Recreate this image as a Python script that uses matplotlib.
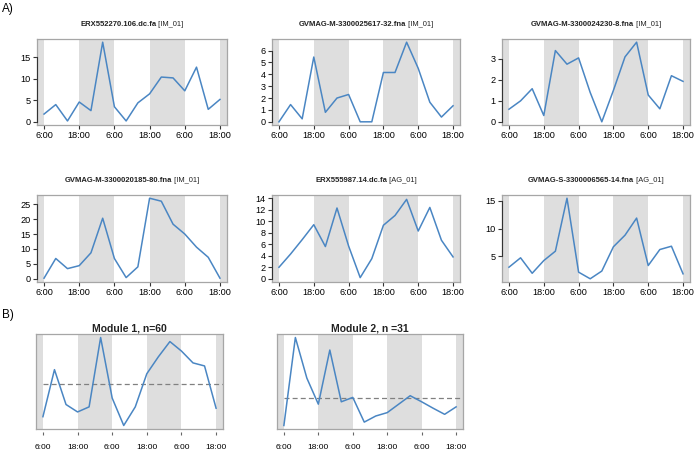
import matplotlib
matplotlib.use("Agg")
import matplotlib.pyplot as plt
import matplotlib.transforms as mtransforms
import numpy as np

plt.rcParams['font.family'] = ['Liberation Sans', 'DejaVu Sans']

hours = list(range(0, 61, 4))  # 6:00 day1 .. 18:00 day3
tick_hours = [0, 12, 24, 36, 48, 60]
tick_labels = ["6:00", "18:00", "6:00", "18:00", "6:00", "18:00"]
night_spans = [(12, 24), (36, 48)]

names = ["ERX552270.106.dc.fa", "GVMAG-M-3300025617-32.fna", "GVMAG-M-3300024230-8.fna",
         "GVMAG-M-3300020185-80.fna", "ERX555987.14.dc.fa", "GVMAG-S-3300006565-14.fna"]
tags = ["[IM_01]", "[IM_01]", "[IM_01]", "[IM_01]", "[AG_01]", "[AG_01]"]

v1 = [1.8, 4.0, 0.2, 4.6, 2.6, 18.5, 3.5, 0.2, 4.4, 6.5, 10.4, 10.2, 7.2, 12.7, 2.9, 5.2]
v2 = [0.0, 1.45, 0.25, 5.45, 0.8, 2.0, 2.3, 0.0, 0.0, 4.15, 4.15, 6.7, 4.5, 1.65, 0.4, 1.35]
v3 = [0.6, 1.0, 1.58, 0.3, 3.4, 2.75, 3.05, 1.4, 0.0, 1.5, 3.1, 3.8, 1.28, 0.62, 2.2, 1.93]
v4 = [0.2, 6.8, 3.4, 4.4, 8.7, 20.3, 6.8, 0.4, 4.0, 27.0, 26.0, 18.3, 15.0, 10.6, 7.2, 0.2]
v5 = [2.0, 4.3, 6.8, 9.4, 5.6, 12.3, 5.7, 0.2, 3.5, 9.3, 11.0, 13.8, 8.3, 12.4, 6.7, 3.8]
v6 = [3.0, 4.7, 1.9, 4.2, 5.9, 15.5, 2.1, 0.9, 2.3, 6.7, 8.8, 11.9, 3.3, 6.2, 6.8, 1.8]
series = [v1, v2, v3, v4, v5, v6]
yticks = [[0, 5, 10, 15], [0, 1, 2, 3, 4, 5, 6], [0, 1, 2, 3],
          [0, 5, 10, 15, 20, 25], [0, 2, 4, 6, 8, 10, 12, 14], [5, 10, 15]]

module_titles = ["Module 1, n=60", "Module 2, n =31"]
m1 = [4.8, 18.7, 8.4, 6.2, 7.7, 28.2, 10.3, 2.2, 7.7, 17.5, 22.5, 27.0, 24.2, 20.7, 19.8, 7.3]
m2 = [2.2, 28.2, 16.2, 8.5, 24.5, 9.2, 10.5, 3.2, 5.0, 6.0, 8.5, 11.0, 9.2, 7.3, 5.5, 7.7]
modules = [m1, m2]
module_means = [14.5, 10.2]

LINE = "#4a86c3"
SHADE = "#dedede"
BOX = "#a6a6a6"
DARK = "#333333"
XMIN, XMAX = -2.4, 62.4

fig = plt.figure(figsize=(6.96, 4.5), dpi=100)
W, H = 696, 450

def add_ax(l, t, r, b):
    return fig.add_axes([l / W, 1 - b / H, (r - l) / W, (b - t) / H])

def shade(ax):
    ax.axvspan(XMIN, 0, color=SHADE, lw=0, zorder=0)
    for a, b in night_spans:
        ax.axvspan(a, b, color=SHADE, lw=0, zorder=0)
    ax.axvspan(60, XMAX, color=SHADE, lw=0, zorder=0)
    ax.set_xlim(XMIN, XMAX)

def style_box(ax):
    for s in ax.spines.values():
        s.set_color(BOX)
        s.set_linewidth(0.9)

top_boxes = [(37, 39, 227, 125), (272, 39, 460, 125), (502, 39, 690, 125),
             (37, 195, 227, 282), (272, 195, 460, 282), (502, 195, 690, 282)]

renderer = fig.canvas.get_renderer()

for i, (box, vals, name, tag, yt) in enumerate(zip(top_boxes, series, names, tags, yticks)):
    ax = add_ax(*box)
    shade(ax)
    ax.plot(hours, vals, color=LINE, lw=1.1, zorder=3)
    ax.margins(y=0.04)
    ax.set_xticks(tick_hours)
    ax.set_xticklabels(tick_labels)
    ax.set_yticks(yt)
    ax.tick_params(axis='both', labelsize=6.6, length=3, width=0.8, color=DARK, pad=1.5)
    style_box(ax)
    # R-style y axis line from first to last tick
    trans = mtransforms.blended_transform_factory(ax.transAxes, ax.transData)
    ax.plot([0, 0], [yt[0], yt[-1]], transform=trans, color=DARK, lw=0.8, clip_on=False, zorder=5)
    # title: bold name + normal tag
    t1 = ax.text(0.5, 1.0, name, transform=ax.transAxes, fontsize=5.5, fontweight='bold',
                 ha='left', va='bottom', color="#222222")
    t2 = ax.annotate(" " + tag, xy=(1, 0), xycoords=t1, fontsize=5.4, ha='left', va='bottom',
                     color="#222222")
    w1 = t1.get_window_extent(renderer).width
    w2 = t2.get_window_extent(renderer).width
    axw = ax.get_window_extent(renderer).width
    t1.set_x(0.5 - (w1 + w2) / 2 / axw)
    t1.set_y(1.0 + 11 / ax.get_window_extent(renderer).height)

bottom_boxes = [(36, 334, 223, 429), (277, 334, 463, 429)]
for box, vals, title, mean in zip(bottom_boxes, modules, module_titles, module_means):
    ax = add_ax(*box)
    shade(ax)
    ax.plot(hours, vals, color=LINE, lw=1.1, zorder=3)
    ax.axhline(mean, color="#808080", lw=0.9, ls=(0, (4, 2.5)), zorder=2,
               xmin=(0 - XMIN) / (XMAX - XMIN), xmax=1.0)
    ax.margins(y=0.04)
    ax.set_xticks(tick_hours)
    ax.set_xticklabels(tick_labels)
    ax.set_yticks([])
    style_box(ax)
    ax.spines['bottom'].set_position(('outward', 2.5))
    ax.spines['bottom'].set_visible(False)
    ax.plot([0, 1], [0, 0], transform=ax.transAxes, color=BOX, lw=0.9, clip_on=False, zorder=5)
    ax.tick_params(axis='x', labelsize=6.0, length=2.5, width=0.8, color="#666666", pad=6)
    ax.set_title(title, fontsize=7.5, fontweight='bold', pad=2, color="#222222")

fig.text(2 / W, 1 - 9 / H, "A)", fontsize=8.5, va='center', ha='left')
fig.text(2 / W, 1 - 315 / H, "B)", fontsize=8.5, va='center', ha='left')

fig.savefig("out.png", dpi=100)
